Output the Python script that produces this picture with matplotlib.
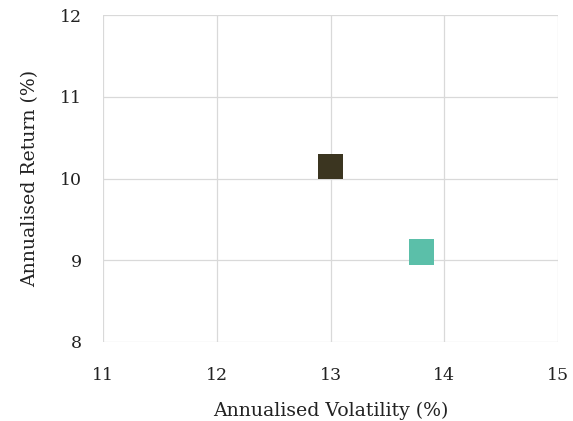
import matplotlib.pyplot as plt

volatility = [13.0, 13.8]
annual_return = [10.15, 9.1]
point_colors = ["#3b3520", "#5bbfa9"]

x_ticks = [11, 12, 13, 14, 15]
y_ticks = [8, 9, 10, 11, 12]

plt.rcParams["font.family"] = ["DejaVu Serif"]

fig = plt.figure(figsize=(5.73, 4.21), dpi=100)
ax = fig.add_axes([0.18, 0.188, 0.794, 0.776])

ax.scatter(volatility, annual_return, s=330, marker="s", c=point_colors,
           edgecolors="none", zorder=3, clip_on=False)

ax.set_xlim(x_ticks[0], x_ticks[-1])
ax.set_ylim(y_ticks[0], y_ticks[-1])
ax.set_xticks(x_ticks)
ax.set_yticks(y_ticks)
ax.grid(True, color="#d9d9d9", linewidth=0.9)
ax.set_axisbelow(True)
for spine in ax.spines.values():
    spine.set_visible(False)
ax.tick_params(length=0, labelsize=12.5, colors="#222222")
ax.tick_params(axis="x", pad=18)
ax.tick_params(axis="y", pad=15)

ax.set_xlabel("Annualised Volatility (%)", fontsize=13.6, color="#222222", labelpad=13)
ax.set_ylabel("Annualised Return (%)", fontsize=13.6, color="#222222", labelpad=15)

fig.savefig("out.png", dpi=100)
